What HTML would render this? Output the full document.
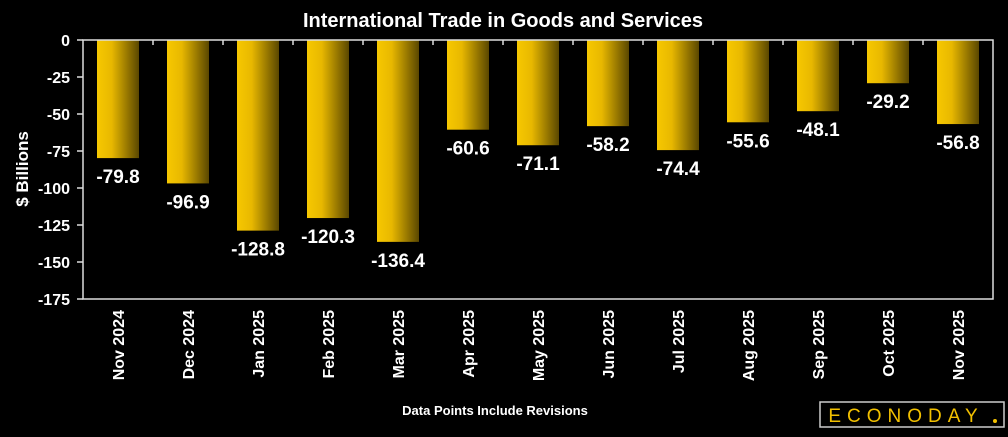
<!DOCTYPE html>
<html><head><meta charset="utf-8"><style>
body{margin:0;background:#000;width:1008px;height:432px;overflow:hidden;font-family:"Liberation Sans",sans-serif}
</style></head><body>
<svg id="chart" width="1008" height="432" xmlns="http://www.w3.org/2000/svg" font-family="Liberation Sans, sans-serif">
<defs><linearGradient id="g" x1="0" x2="1" y1="0" y2="0"><stop offset="0" stop-color="#f7c800"/><stop offset="0.35" stop-color="#e8b800"/><stop offset="1" stop-color="#5a4700"/></linearGradient></defs>
<text x="503" y="27" fill="#fff" font-size="20" font-weight="bold" text-anchor="middle">International Trade in Goods and Services</text>
<text transform="translate(28,169) rotate(-90)" fill="#fff" font-size="17" font-weight="bold" text-anchor="middle">$ Billions</text>
<g id="bars"></g>
<rect x="83" y="40" width="910" height="259" fill="none" stroke="#ddd" stroke-width="1.5"/>
<text x="495" y="415" fill="#fff" font-size="13" font-weight="bold" text-anchor="middle">Data Points Include Revisions</text>
<g><rect x="820" y="402" width="184" height="25" fill="none" stroke="#ccc" stroke-width="1.5"/><text x="906" y="422" fill="#f2c000" font-size="19" text-anchor="middle" letter-spacing="6">ECONODAY</text><circle cx="995" cy="421" r="2" fill="#f2c000"/></g>
</svg>
<script>
const categories=["Nov 2024","Dec 2024","Jan 2025","Feb 2025","Mar 2025","Apr 2025","May 2025","Jun 2025","Jul 2025","Aug 2025","Sep 2025","Oct 2025","Nov 2025"];
const values=[-79.8,-96.9,-128.8,-120.3,-136.4,-60.6,-71.1,-58.2,-74.4,-55.6,-48.1,-29.2,-56.8];
const yTicks=[0,-25,-50,-75,-100,-125,-150,-175];
const NS="http://www.w3.org/2000/svg";
const L=83,T=40,W=910,H=259,bw=W/categories.length;
const y=v=>T+(-v)/175*H;
const x=i=>L+i*bw;
const g=document.getElementById('bars');
function mk(t,a,txt){const e=document.createElementNS(NS,t);for(const k in a)e.setAttribute(k,a[k]);if(txt!=null)e.textContent=txt;g.appendChild(e);return e;}
yTicks.forEach(v=>{
 const l=mk('line',{x1:L-6,x2:L,y1:y(v),y2:y(v),stroke:'#ddd','stroke-width':1.5});
 
 
 const t=mk('text',{x:L-13,y:y(v)+6,fill:'#fff','font-size':16,'font-weight':'bold','text-anchor':'end'},String(v));
 
 
});
categories.forEach((c,i)=>{
 const v=values[i];
 const r=mk('rect',{x:x(i)+14,y:T,width:42,height:y(v)-T,fill:'url(#g)'});
 
 
 const t=mk('text',{x:x(i)+bw/2,y:y(v)+25,fill:'#fff','font-size':19,'font-weight':'bold','text-anchor':'middle'},v.toFixed(1));
 
 
 if(i>0){const tk=mk('line',{x1:x(i),x2:x(i),y1:T,y2:T+5,stroke:'#ddd','stroke-width':1.5});
 
 }
 const cx=x(i)+bw/2+6;
 const xl=mk('text',{transform:`translate(${cx},310) rotate(-90)`,fill:'#fff','font-size':16,'font-weight':'bold','text-anchor':'end'},c);
 
 
});
</script>
</body></html>
